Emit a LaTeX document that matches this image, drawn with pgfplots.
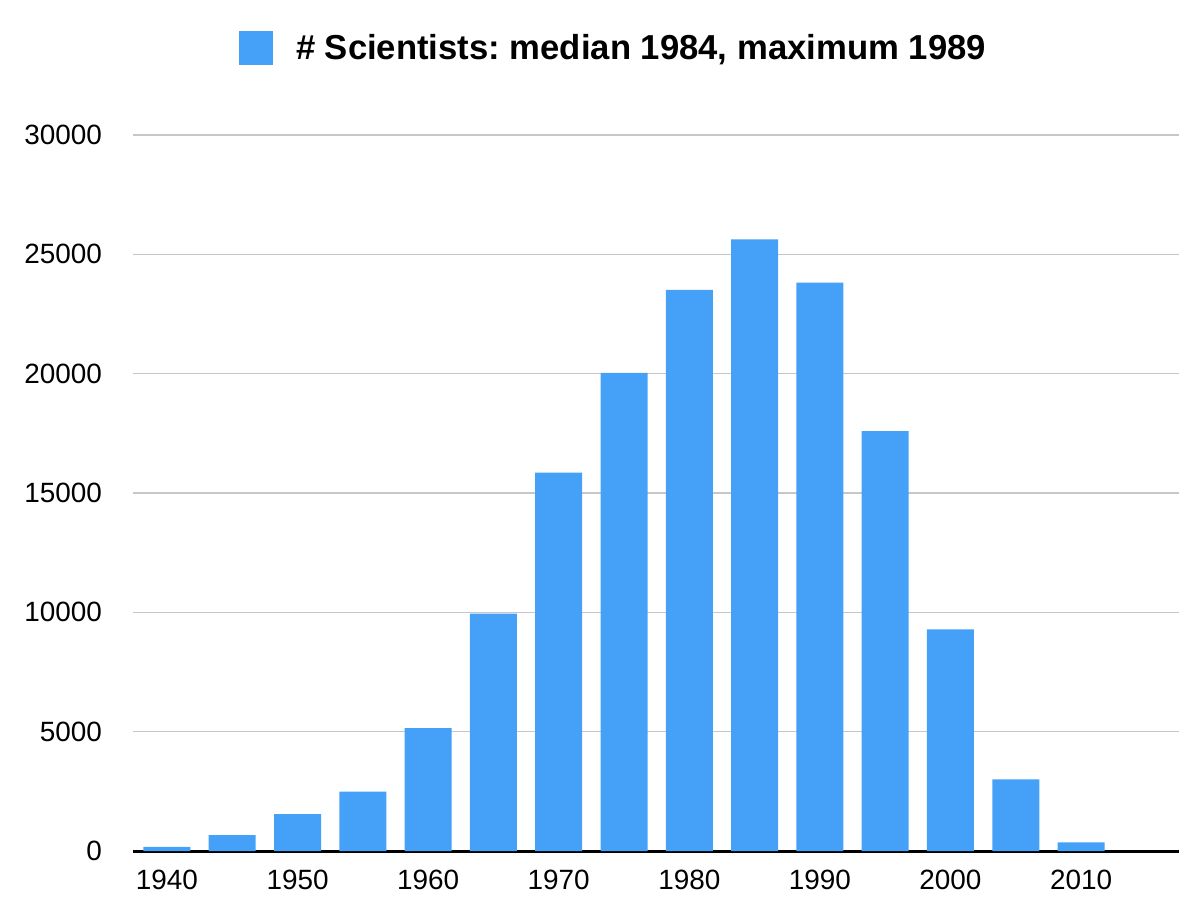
\documentclass[border=0pt]{standalone}
\usepackage{fontspec}
\setmainfont{Liberation Sans}
\usepackage{pgfplots}
\pgfplotsset{compat=1.18}
\definecolor{barblue}{RGB}{68,161,247}
\frenchspacing
\begin{document}
\begin{tikzpicture}
\useasboundingbox (0,0) rectangle (600bp,456bp);
\begin{axis}[
  at={(66.5bp,30.5bp)}, anchor=south west,
  scale only axis, width=523bp, height=358bp,
  xmin=1937.4, xmax=2017.5, ymin=0, ymax=30000,
  axis y line*=left,
  axis x line*=bottom,
  y axis line style={draw=none},
  x axis line style={line width=1.5bp, black},
  ybar, bar width=23.5bp,
  ytick={0,5000,...,30000},
  xtick={1940,1950,...,2010},
  ymajorgrids,
  grid style={line width=0.75bp, color=black!22},
  major tick length=0pt,
  scaled y ticks=false,
  /pgf/number format/assume math mode=true,
  /pgf/number format/1000 sep={},
  tick label style={font=\fontsize{14}{16}\selectfont},
  yticklabel style={xshift=-12bp},
  xticklabel style={yshift=-6bp},
  legend style={draw=none, fill=none, at={(0.4603,1.1215)}, anchor=center,
    font=\fontsize{17.4}{20}\selectfont\bfseries},
  clip=false,
]
\addplot[fill=barblue, draw=none,
  legend image code/.code={\fill[barblue] (0bp,-8.5bp) rectangle (17bp,8.5bp); \path (26.5bp,0bp);}]
coordinates {
(1940,170) (1945,660) (1950,1540) (1955,2490) (1960,5150) (1965,9945)
(1970,15855) (1975,20030) (1980,23515) (1985,25630) (1990,23810)
(1995,17590) (2000,9285) (2005,3000) (2010,365)
};
\addlegendentry{\# Scientists: median 1984, maximum 1989}
\end{axis}
\end{tikzpicture}
\end{document}
